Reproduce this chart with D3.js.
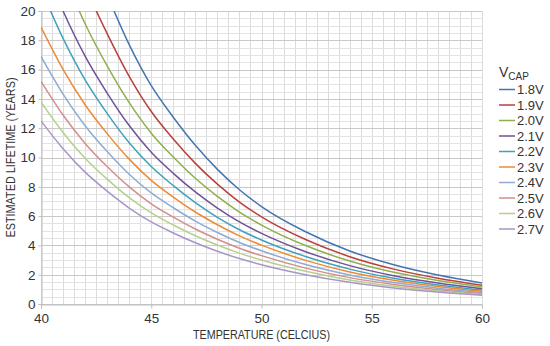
<!DOCTYPE html>
<html>
<head>
<meta charset="utf-8">
<script src="https://cdn.jsdelivr.net/npm/d3@7/dist/d3.min.js"></script>
<style>
  html, body { margin: 0; padding: 0; background: #fff; }
  svg { display: block; }
  text { font-family: "Liberation Sans Narrow", "Liberation Sans", Arial, sans-serif; fill: #333; }
</style>
</head>
<body>
<svg id="chart" width="550" height="346"></svg>
<script>
// Temperatures (°C) at which each lifetime curve is sampled
const temps = [40, 41, 42, 43, 44, 45, 46, 47, 48, 49, 50, 52, 54, 56, 58, 60];

// Estimated lifetime (years) per capacitor voltage
const v18 = [34.3, 29.0, 24.7, 21.1, 17.7, 14.9, 12.75, 10.83, 9.19, 7.80, 6.65, 4.93, 3.62, 2.68, 1.98, 1.44];
const v19 = [30.1, 25.5, 21.7, 18.46, 15.54, 13.14, 11.26, 9.6, 8.18, 6.96, 5.95, 4.4, 3.23, 2.38, 1.76, 1.28];
const v20 = [26.6, 22.6, 19.13, 16.25, 13.74, 11.66, 10.03, 8.58, 7.34, 6.27, 5.39, 3.99, 2.93, 2.16, 1.60, 1.16];
const v21 = [23.6, 20.0, 16.92, 14.4, 12.18, 10.36, 8.92, 7.65, 6.55, 5.61, 4.82, 3.57, 2.62, 1.93, 1.43, 1.04];
const v22 = [21.5, 18.13, 15.3, 13.01, 11.0, 9.38, 8.08, 6.92, 5.92, 5.07, 4.37, 3.24, 2.38, 1.75, 1.30, 0.94];
const v23 = [18.9, 16.02, 13.6, 11.63, 9.89, 8.44, 7.3, 6.28, 5.41, 4.65, 4.02, 2.98, 2.19, 1.62, 1.2, 0.87];
const v24 = [16.9, 14.33, 12.17, 10.41, 8.86, 7.58, 6.57, 5.66, 4.88, 4.2, 3.63, 2.69, 1.98, 1.46, 1.08, 0.79];
const v25 = [15.2, 12.9, 10.96, 9.38, 7.99, 6.84, 5.93, 5.12, 4.42, 3.81, 3.3, 2.45, 1.8, 1.33, 0.98, 0.71];
const v26 = [13.8, 11.71, 9.95, 8.52, 7.26, 6.22, 5.39, 4.66, 4.03, 3.47, 3.0, 2.23, 1.64, 1.21, 0.89, 0.65];
const v27 = [12.5, 10.6, 9.0, 7.7, 6.55, 5.6, 4.85, 4.18, 3.6, 3.1, 2.68, 2.0, 1.48, 1.1, 0.82, 0.6];

const voltageLabels = ["1.8V", "1.9V", "2.0V", "2.1V", "2.2V", "2.3V", "2.4V", "2.5V", "2.6V", "2.7V"];
const seriesColors = ["#4575b0", "#b8403d", "#8fae4c", "#6f5298", "#3fa2bb", "#ec8a35", "#8fabd3", "#d38d8c", "#b6d08b", "#a796c6"];
const yTicks = [0, 2, 4, 6, 8, 10, 12, 14, 16, 18, 20];
const xTicks = [40, 45, 50, 55, 60];

const series = [v18, v19, v20, v21, v22, v23, v24, v25, v26, v27].map((vals, i) => ({
  label: voltageLabels[i],
  color: seriesColors[i],
  points: temps.map((t, j) => ({ t, v: vals[j] }))
}));

const svg = d3.select("#chart");
const m = { left: 41, right: 482, top: 11, bottom: 304 };

const x = d3.scaleLinear().domain([40, 60]).range([m.left, m.right]);
const y = d3.scaleLinear().domain([0, 20]).range([m.bottom, m.top]);

// Grid: vertical every 0.5 °C, horizontal every 0.5 year (darker every 2)
const grid = svg.append("g").attr("shape-rendering", "crispEdges");
grid.selectAll("line.vx")
  .data(d3.range(40, 60.001, 0.5))
  .join("line")
  .attr("x1", d => Math.round(x(d)) + 0.5).attr("x2", d => Math.round(x(d)) + 0.5)
  .attr("y1", m.top).attr("y2", m.bottom)
  .attr("stroke", "#dcdcdc").attr("stroke-width", 1);
grid.selectAll("line.hy")
  .data(d3.range(0, 20.001, 0.5))
  .join("line")
  .attr("x1", m.left).attr("x2", m.right)
  .attr("y1", d => Math.round(y(d)) + 0.5).attr("y2", d => Math.round(y(d)) + 0.5)
  .attr("stroke", d => (d % 2 === 0 ? "#c9c9c9" : "#e3e3e3")).attr("stroke-width", 1);

// Axes
const xAxis = d3.axisBottom(x).tickValues(xTicks).tickSize(4).tickPadding(5).tickFormat(d3.format("d"));
const yAxis = d3.axisLeft(y).tickValues(yTicks).tickSize(3).tickPadding(3).tickFormat(d3.format("d"));

const gx = svg.append("g").attr("transform", `translate(0,${Math.round(m.bottom) + 0.5})`).call(xAxis);
const gy = svg.append("g").attr("transform", `translate(${m.left + 0.5},0)`).call(yAxis);
[gx, gy].forEach(g => {
  g.select(".domain").attr("stroke", "#bdbdbd");
  g.selectAll(".tick line").attr("stroke", "#bdbdbd");
  g.selectAll(".tick text").attr("font-size", 13.5).attr("fill", "#333")
    .style("font-family", '"Liberation Sans Narrow", "Liberation Sans", Arial, sans-serif');
});

// Curves, clipped to the plot area
svg.append("clipPath").attr("id", "plot-clip")
  .append("rect").attr("x", m.left).attr("y", m.top)
  .attr("width", m.right - m.left).attr("height", m.bottom - m.top);

const line = d3.line().x(d => x(d.t)).y(d => y(d.v)).curve(d3.curveMonotoneX);
svg.append("g").attr("clip-path", "url(#plot-clip)")
  .selectAll("path")
  .data(series)
  .join("path")
  .attr("d", d => line(d.points))
  .attr("fill", "none")
  .attr("stroke", d => d.color)
  .attr("stroke-width", 1.5);

// Axis titles (condensed lettering)
svg.append("text")
  .attr("x", (m.left + m.right) / 2).attr("y", 339)
  .attr("text-anchor", "middle").attr("font-size", 13)
  .attr("textLength", 137).attr("lengthAdjust", "spacingAndGlyphs")
  .text("TEMPERATURE (CELCIUS)");
svg.append("text")
  .attr("transform", `translate(15,${(m.top + m.bottom) / 2}) rotate(-90)`)
  .attr("text-anchor", "middle").attr("font-size", 12.5)
  .attr("textLength", 160).attr("lengthAdjust", "spacingAndGlyphs")
  .text("ESTIMATED LIFETIME (YEARS)");

// Legend
const legend = svg.append("g").attr("transform", "translate(499,0)");
const title = legend.append("text").attr("x", 0).attr("y", 77).attr("font-size", 14);
title.append("tspan").text("V");
title.append("tspan").attr("font-size", 10).attr("dy", 3).text("CAP");

const items = legend.selectAll("g.item")
  .data(series)
  .join("g")
  .attr("transform", (d, i) => `translate(0,${89.5 + i * 15.5})`);
items.append("line")
  .attr("x1", 0).attr("x2", 16).attr("y1", 0).attr("y2", 0)
  .attr("stroke", d => d.color).attr("stroke-width", 1.5);
items.append("text")
  .attr("x", 18).attr("y", 0).attr("dy", "0.36em").attr("font-size", 13)
  .text(d => d.label);
</script>
</body>
</html>
